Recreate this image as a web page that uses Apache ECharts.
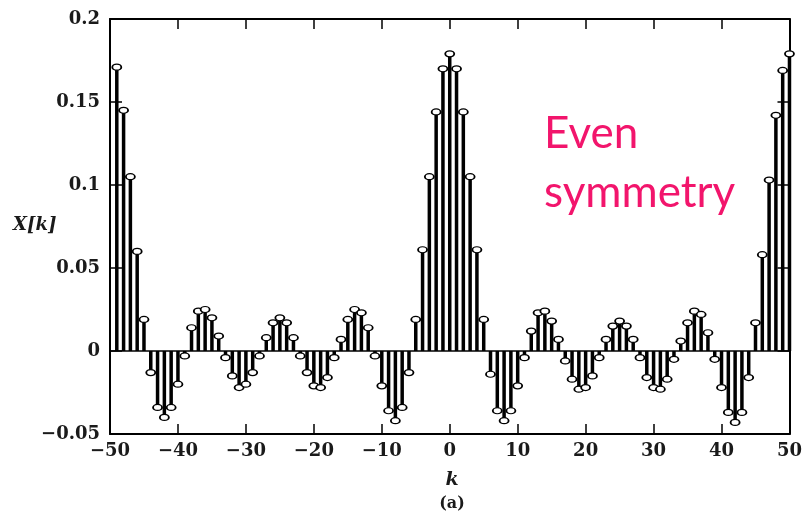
<!DOCTYPE html>
<html>
<head>
<meta charset="utf-8">
<script src="https://cdn.jsdelivr.net/npm/echarts@6/dist/echarts.min.js"></script>
<style>
html, body { margin: 0; padding: 0; background: #fff; }
#chart { width: 805px; height: 516px; }
</style>
</head>
<body>
<div id="chart"></div>
<script>
// X[k] for k = -49 .. 50 (k = -50 has no marker in the figure)
const kStart = -49
const xValues = [
	0.171, 0.145, 0.105, 0.060, 0.019, -0.013, -0.034, -0.040, -0.034, -0.020,
	-0.003, 0.014, 0.024, 0.025, 0.020, 0.009, -0.004, -0.015, -0.022, -0.020,
	-0.013, -0.003, 0.008, 0.017, 0.020, 0.017, 0.008, -0.003, -0.013, -0.021,
	-0.022, -0.016, -0.004, 0.007, 0.019, 0.025, 0.023, 0.014, -0.003, -0.021,
	-0.036, -0.042, -0.034, -0.013, 0.019, 0.061, 0.105, 0.144, 0.170, 0.179,
	0.170, 0.144, 0.105, 0.061, 0.019, -0.014, -0.036, -0.042, -0.036, -0.021,
	-0.004, 0.012, 0.023, 0.024, 0.018, 0.007, -0.006, -0.017, -0.023, -0.022,
	-0.015, -0.004, 0.007, 0.015, 0.018, 0.015, 0.007, -0.004, -0.016, -0.022,
	-0.023, -0.017, -0.005, 0.006, 0.017, 0.024, 0.022, 0.011, -0.005, -0.022,
	-0.037, -0.043, -0.037, -0.016, 0.017, 0.058, 0.103, 0.142, 0.169, 0.179
]
const xTicks = [-50, 50, 10]
const yTicks = [-0.05, 0.2, 0.05]

const points = xValues.map((v, i) => [kStart + i, v])

const serif = '"DejaVu Serif", "Liberation Serif", serif'
const fmt = v => String(+(+v).toFixed(2)).replace('-', '\u2212')

const axisLine = { show: true, onZero: false, lineStyle: { color: '#000', width: 2 } }
const axisTick = { show: true, inside: true, length: 10, lineStyle: { color: '#000', width: 1.5 } }
const labelStyle = { fontFamily: serif, fontSize: 18, fontWeight: 'bold', color: '#1a1a1a' }

const chart = echarts.init(document.getElementById('chart'))
chart.setOption({
	backgroundColor: '#fff',
	animation: false,
	grid: { left: 110, right: 11, top: 19, bottom: 82 },
	xAxis: [{
		type: 'value', min: xTicks[0], max: xTicks[1], interval: xTicks[2], position: 'bottom',
		axisLine, axisTick, splitLine: { show: false },
		axisLabel: Object.assign({ formatter: fmt, margin: 8 }, labelStyle)
	}, {
		type: 'value', min: xTicks[0], max: xTicks[1], interval: xTicks[2], position: 'top',
		axisLine, axisTick, splitLine: { show: false }, axisLabel: { show: false }
	}],
	yAxis: [{
		type: 'value', min: yTicks[0], max: yTicks[1], interval: yTicks[2], position: 'left',
		axisLine, axisTick: Object.assign({}, axisTick, { length: 12 }), splitLine: { show: false },
		axisLabel: Object.assign({ formatter: fmt, margin: 10 }, labelStyle)
	}, {
		type: 'value', min: yTicks[0], max: yTicks[1], interval: yTicks[2], position: 'right',
		axisLine, axisTick: Object.assign({}, axisTick, { length: 12 }), splitLine: { show: false },
		axisLabel: { show: false }
	}],
	series: [{
		type: 'custom',
		data: points,
		renderItem: (params, api) => {
			const p0 = api.coord([api.value(0), 0])
			const p1 = api.coord([api.value(0), api.value(1)])
			return {
				type: 'line',
				shape: { x1: p0[0], y1: p0[1], x2: p1[0], y2: p1[1] },
				style: { stroke: '#000', lineWidth: 3.5 }
			}
		},
		z: 2
	}, {
		type: 'scatter',
		data: points,
		symbol: 'circle',
		symbolSize: [9, 6],
		itemStyle: { color: '#fff', borderColor: '#000', borderWidth: 1.5, opacity: 1 },
		markLine: {
			silent: true, symbol: 'none', label: { show: false },
			lineStyle: { color: '#000', width: 1.5, type: 'solid' },
			data: [{ yAxis: 0 }]
		},
		z: 3
	}],
	graphic: [{
		type: 'text', left: 13, top: 216,
		style: { text: 'X[k]', font: 'italic bold 18px ' + serif, fill: '#1a1a1a' }
	}, {
		type: 'text', x: 452, y: 480,
		style: { text: 'k', font: 'italic bold 19px ' + serif, fill: '#1a1a1a', textAlign: 'center', textVerticalAlign: 'middle' }
	}, {
		type: 'text', x: 452, y: 504,
		style: { text: '(a)', font: 'bold 16px ' + serif, fill: '#1a1a1a', textAlign: 'center', textVerticalAlign: 'middle' }
	}, {
		type: 'text', x: 544, y: 134,
		style: { text: 'Even', font: '44px Lato, "Open Sans", sans-serif', fill: '#f2156c', textVerticalAlign: 'middle' }
	}, {
		type: 'text', x: 544, y: 193,
		style: { text: 'symmetry', font: '44px Lato, "Open Sans", sans-serif', fill: '#f2156c', textVerticalAlign: 'middle' }
	}]
})
</script>
</body>
</html>
